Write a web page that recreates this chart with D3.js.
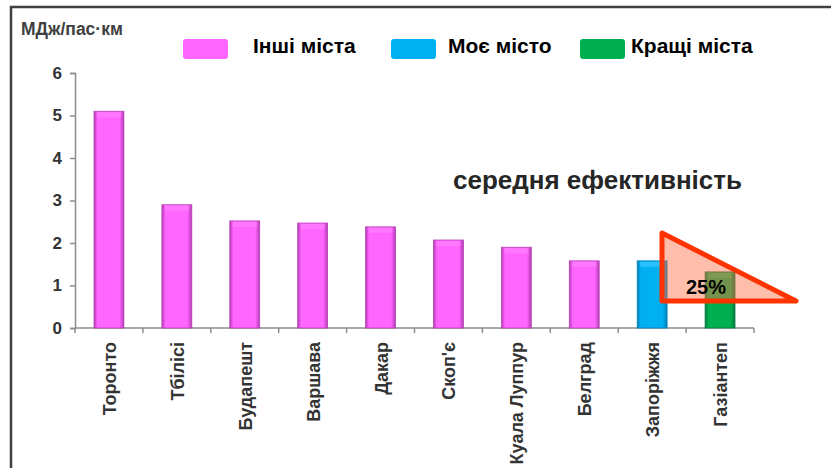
<!DOCTYPE html>
<meta charset="utf-8">
<style>
    body { margin: 0; background: #fff; }
    text { font-family: Arial, "Liberation Sans", sans-serif; font-weight: bold; }
</style>
<body>
<div id="chart"></div>
<script src="https://d3js.org/d3.v7.min.js"></script>
<script>
    // data
    var cities = ['Торонто', 'Тбілісі', 'Будапешт', 'Варшава', 'Дакар', 'Скоп\'є', 'Куала Луппур', 'Белград', 'Запоріжжя', 'Газіантеп']
    var values = [5.1, 2.9, 2.52, 2.47, 2.38, 2.07, 1.9, 1.58, 1.58, 1.32]
    var groups = ['other', 'other', 'other', 'other', 'other', 'other', 'other', 'other', 'mine', 'best']
    var legendNames = ['Інші міста', 'Моє місто', 'Кращі міста']
    var yTicks = [0, 1, 2, 3, 4, 5, 6]

    var palette = {
        other: ['#b63cb6', '#ff66ff', '#ff7dff'],
        mine: ['#0080b8', '#00b0f0', '#33c4ff'],
        best: ['#007a3a', '#00b050', '#20c060']
    }

    var width = 831, height = 468
    var margin = { top: 73, left: 75, right: 77, bottom: 140 }

    var svg = d3.select('#chart').append('svg')
        .attr('width', width)
        .attr('height', height)

    // frame
    svg.append('rect')
        .attr('x', 11).attr('y', 7)
        .attr('width', width + 20).attr('height', height + 20)
        .style('fill', 'none')
        .style('stroke', '#404040')
        .style('stroke-width', 2.5)

    var defs = svg.append('defs')
    Object.keys(palette).forEach(function (k) {
        var g = defs.append('linearGradient').attr('id', 'grad-' + k)
            .attr('x1', 0).attr('x2', 1).attr('y1', 0).attr('y2', 0)
        g.append('stop').attr('offset', '0%').attr('stop-color', palette[k][0])
        g.append('stop').attr('offset', '12%').attr('stop-color', palette[k][1])
        g.append('stop').attr('offset', '85%').attr('stop-color', palette[k][1])
        g.append('stop').attr('offset', '100%').attr('stop-color', palette[k][0])
    })

    var x = d3.scaleBand()
        .domain(cities)
        .range([margin.left, width - margin.right])
        .paddingInner(0.56)
        .paddingOuter(0.28)

    var y = d3.scaleLinear()
        .domain([0, 6])
        .range([height - margin.bottom, margin.top])

    // y axis
    var gy = svg.append('g')
        .attr('transform', 'translate(' + margin.left + ',0)')
        .call(d3.axisLeft(y).tickValues(yTicks).tickSize(5).tickPadding(8).tickFormat(d3.format('d')))
    gy.selectAll('path, line').style('stroke', '#8c8c8c').style('stroke-width', 1.5)
    gy.selectAll('text')
        .style('font-size', '17px')
        .style('font-weight', 'bold')
        .style('fill', '#333')
        .style('font-family', 'Arial, "Liberation Sans", sans-serif')

    // x axis with ticks between categories
    var step = x.step()
    var xStart = margin.left
    var gx = svg.append('g')
    gx.append('line')
        .attr('x1', xStart).attr('x2', width - margin.right)
        .attr('y1', y(0)).attr('y2', y(0))
        .style('stroke', '#8c8c8c').style('stroke-width', 1.5)
    gx.selectAll('.tick')
        .data(d3.range(cities.length + 1))
        .enter().append('line')
        .attr('x1', function (i) { return xStart + i * step })
        .attr('x2', function (i) { return xStart + i * step })
        .attr('y1', y(0)).attr('y2', y(0) + 5)
        .style('stroke', '#8c8c8c').style('stroke-width', 1.5)

    // bars
    svg.selectAll('.bar')
        .data(cities)
        .enter().append('rect')
        .attr('class', 'bar')
        .attr('x', function (d) { return x(d) })
        .attr('width', x.bandwidth())
        .attr('y', function (d, i) { return y(values[i]) })
        .attr('height', function (d, i) { return y(0) - y(values[i]) })
        .style('fill', function (d, i) { return 'url(#grad-' + groups[i] + ')' })
        .style('stroke', function (d, i) { return palette[groups[i]][0] })
        .style('stroke-width', 0.8)

    // light top caps
    svg.selectAll('.cap')
        .data(cities)
        .enter().append('rect')
        .attr('x', function (d) { return x(d) + 3 })
        .attr('width', x.bandwidth() - 6)
        .attr('y', function (d, i) { return y(values[i]) + 1 })
        .attr('height', 5)
        .style('fill', function (d, i) { return palette[groups[i]][2] })
        .style('opacity', 0.8)

    // category labels
    svg.selectAll('.xlabel')
        .data(cities)
        .enter().append('text')
        .attr('transform', function (d) {
            return 'translate(' + (x(d) + x.bandwidth() / 2 + 7) + ',' + (y(0) + 14) + ') rotate(-90)'
        })
        .attr('text-anchor', 'end')
        .style('font-size', '18px')
        .style('fill', '#333')
        .text(function (d) { return d })

    // unit label
    svg.append('text')
        .attr('x', 21).attr('y', 35)
        .style('font-size', '17.5px')
        .style('fill', '#404040')
        .text('МДж/пас·км')

    // legend
    var legendKeys = ['other', 'mine', 'best']
    var legendX = [183, 391, 580]
    var legendTextX = [253, 448, 631]
    legendKeys.forEach(function (k, i) {
        svg.append('rect')
            .attr('x', legendX[i]).attr('y', 39)
            .attr('width', 45).attr('height', 20)
            .attr('rx', 3)
            .style('fill', palette[k][1])
        svg.append('text')
            .attr('x', legendTextX[i]).attr('y', 53)
            .style('font-size', '21px')
            .style('fill', '#000')
            .text(legendNames[i])
    })

    // annotation
    svg.append('text')
        .attr('x', 453).attr('y', 189)
        .style('font-size', '26px')
        .style('fill', '#262626')
        .text('середня ефективність')

    var tri = [[662, 233], [796, 301], [662, 301]]
    svg.append('path')
        .attr('d', d3.line()(tri) + 'Z')
        .style('fill', 'rgba(255, 110, 70, 0.45)')
        .style('stroke', '#ff3300')
        .style('stroke-width', 5)
        .style('stroke-linejoin', 'round')

    svg.append('text')
        .attr('x', 686).attr('y', 294)
        .style('font-size', '20px')
        .style('fill', '#000')
        .text('25%')
</script>
</body>
